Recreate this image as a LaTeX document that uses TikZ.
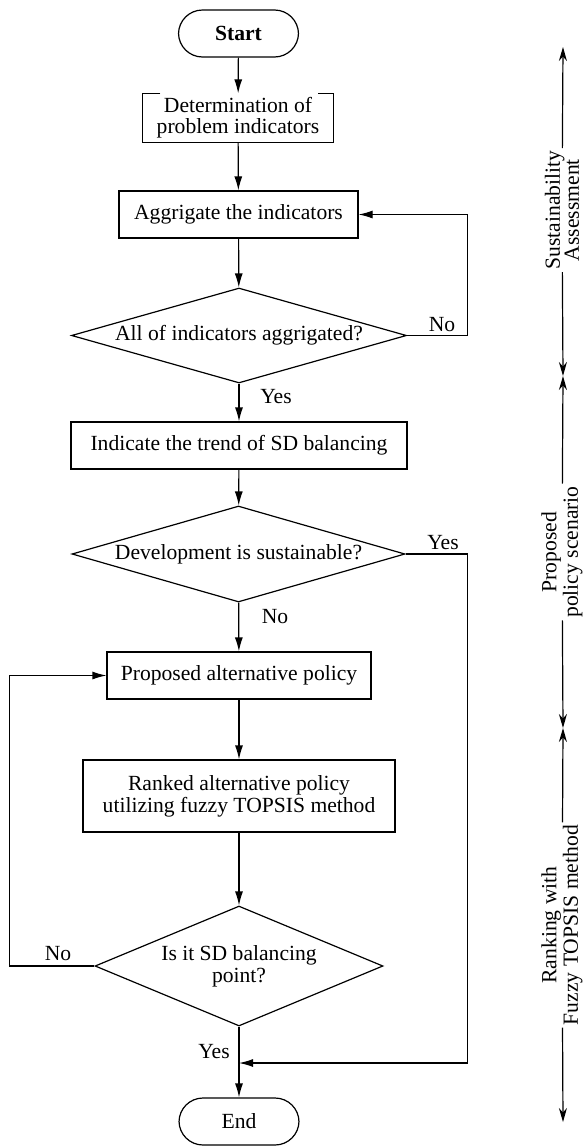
\documentclass[tikz,border=0pt]{standalone}
\usepackage{fontspec}
\setmainfont{Liberation Serif}
\usetikzlibrary{shapes.geometric,arrows.meta}

\begin{document}
\begin{tikzpicture}
        [%%%%%%%%%%%%%%%%%%%%%%%%%%%%%%
        x=0.5pt,y=-0.5pt,
        line width=0.6pt,
        every node/.style={font=\fontsize{10.8}{11}\selectfont},
        term/.style={draw, rounded corners=12pt, minimum width=60pt, minimum height=23.5pt, inner sep=0pt},
        proc/.style={draw, minimum height=23.5pt, inner sep=0pt, align=center},
        decis/.style={draw, diamond, inner sep=0pt, align=center},
        arr/.style={-{Latex[length=7pt,width=4pt]}},
        phase/.style={-{Stealth[length=7pt,width=4pt]}},
        phaselab/.style={rotate=90, align=center, inner sep=1pt, font=\fontsize{10.8}{9.5}\selectfont},
        ]%%%%%%%%%%%%%%%%%%%%%%%%%%%%%%
        \useasboundingbox (0,0) rectangle (584,1146);
        % Steps
        \node[term] (start) at (238.5,33.5) {\textbf{Start}};
        \node[minimum width=95pt, minimum height=24pt, inner sep=0pt, align=center,
              font=\fontsize{10.8}{10.5}\selectfont] (determ) at (238,118) {Determination of\\problem indicators};
        \node[proc, minimum width=119.5pt] (aggr) at (238.5,214.5) {Aggrigate the indicators};
        \node[decis, aspect=3.53, minimum width=167.5pt, minimum height=47.5pt] (chk1) at (239,335.5) {All of indicators aggrigated?};
        \node[proc, minimum width=168pt] (trend) at (239,445.5) {Indicate the trend of SD balancing};
        \node[decis, aspect=3.47, minimum width=166.5pt, minimum height=48pt] (chk2) at (238.5,554) {Development is sustainable?};
        \node[proc, minimum width=132pt] (policy) at (239,675.5) {Proposed alternative policy};
        \node[proc, minimum width=156pt, minimum height=36pt] (rank) at (239,796) {Ranked alternative policy\\utilizing fuzzy TOPSIS method};
        \node[decis, aspect=2.4, minimum width=144pt, minimum height=60pt] (chk3) at (239,966) {Is it SD balancing\\point?};
        \node[term] (finish) at (239,1121.5) {End};
        % Bracket round the first step
        \draw ([xshift=9pt]determ.north west) -- (determ.north west) -- (determ.south west)
              -- (determ.south east) -- (determ.north east) -- ([xshift=-8pt]determ.north east);
        % Lines
        \draw[arr] (start) -- (determ);
        \draw[arr] (determ) -- (aggr);
        \draw[arr] (aggr) -- (chk1);
        \draw[arr] (chk1.east) -- ++(60,0) |- (aggr.east);
        \draw[arr] (chk1) -- (trend);
        \draw[arr] (trend) -- (chk2);
        \draw[arr] (chk2) -- (policy);
        \draw[arr] (policy) -- (rank);
        \draw[arr] (rank) -- (chk3);
        \draw[arr] (chk3) -- (finish);
        \coordinate (merge) at (239,1063);
        \draw[arr] (chk2.east) -- ++(62,0) |- (merge);
        \draw[arr] (chk3.west) -- ++(-85,0) |- (policy.west);
        % Text
        \node (no1) at (442,325) {No};
        \node (yes1) at (276,397) {Yes};
        \node (yes2) at (443,543) {Yes};
        \node (no2) at (275,617) {No};
        \node (no3) at (58,954) {No};
        \node (yes3) at (214,1052) {Yes};
        % Phases
        \coordinate (ph0) at (563,47);
        \coordinate (ph1) at (563,376);
        \coordinate (ph2) at (563,728);
        \coordinate (ph3) at (563,1122);
        \node[phaselab] (assess) at (562,210) {Sustainability\\Assessment};
        \node[phaselab] (scenario) at (562,552) {Proposed\\policy scenario};
        \node[phaselab] (ranking) at (562,925) {Ranking with\\Fuzzy TOPSIS method};
        \draw[phase] (assess) -- (ph0);
        \draw[phase] (assess) -- (ph1);
        \draw[phase] (scenario) -- (ph1);
        \draw[phase] (scenario) -- (ph2);
        \draw[phase] (ranking) -- (ph2);
        \draw[phase] (ranking) -- (ph3);
      \end{tikzpicture}
\end{document}
